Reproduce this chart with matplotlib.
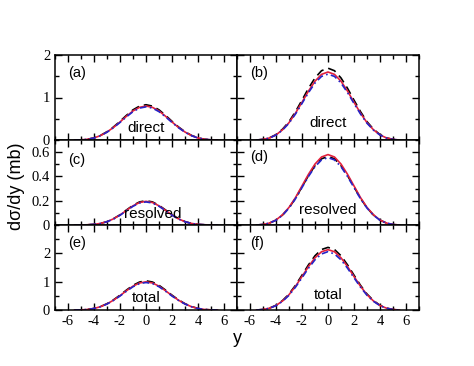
import matplotlib
matplotlib.use("Agg")
import matplotlib.pyplot as plt
from matplotlib.ticker import MultipleLocator

plt.rcParams['axes.unicode_minus'] = False
plt.rcParams['font.family'] = ['Liberation Serif', 'DejaVu Serif']

# rapidity grid
y = [-5.5, -5.0, -4.5, -4.0, -3.5, -3.0, -2.5, -2.0, -1.5, -1.0, -0.5, 0.0,
     0.5, 1.0, 1.5, 2.0, 2.5, 3.0, 3.5, 4.0, 4.5, 5.0, 5.5]

# (a) direct, left column
a_black = [0, 0.004, 0.017, 0.05, 0.108, 0.195, 0.307, 0.44, 0.581, 0.71, 0.797, 0.83,
           0.797, 0.71, 0.581, 0.44, 0.307, 0.195, 0.108, 0.05, 0.017, 0.004, 0]
a_red = [0, 0.004, 0.016, 0.048, 0.104, 0.188, 0.296, 0.424, 0.56, 0.684, 0.768, 0.80,
         0.768, 0.684, 0.56, 0.424, 0.296, 0.188, 0.104, 0.048, 0.016, 0.004, 0]
a_blue = [0, 0.004, 0.016, 0.047, 0.101, 0.183, 0.289, 0.413, 0.546, 0.667, 0.75, 0.78,
          0.75, 0.667, 0.546, 0.413, 0.289, 0.183, 0.101, 0.047, 0.016, 0.004, 0]

# (b) direct, right column
b_black = [0, 0.014, 0.051, 0.127, 0.254, 0.431, 0.668, 0.938, 1.217, 1.46, 1.63, 1.69,
           1.63, 1.46, 1.217, 0.938, 0.668, 0.431, 0.254, 0.127, 0.051, 0.014, 0]
b_red = [0, 0.013, 0.048, 0.12, 0.24, 0.408, 0.632, 0.888, 1.152, 1.384, 1.544, 1.60,
         1.544, 1.384, 1.152, 0.888, 0.632, 0.408, 0.24, 0.12, 0.048, 0.013, 0]
b_blue = [0, 0.012, 0.047, 0.116, 0.233, 0.395, 0.612, 0.86, 1.116, 1.341, 1.496, 1.55,
          1.496, 1.341, 1.116, 0.86, 0.612, 0.395, 0.233, 0.116, 0.047, 0.012, 0]

# (c) resolved, left column
c_black = [0, 0, 0.002, 0.005, 0.013, 0.028, 0.052, 0.084, 0.124, 0.162, 0.190, 0.200,
           0.190, 0.162, 0.124, 0.084, 0.052, 0.028, 0.013, 0.005, 0.002, 0, 0]
c_red = [0, 0, 0.002, 0.005, 0.013, 0.027, 0.051, 0.082, 0.121, 0.158, 0.185, 0.195,
         0.185, 0.158, 0.121, 0.082, 0.051, 0.027, 0.013, 0.005, 0.002, 0, 0]
c_blue = [0, 0, 0.002, 0.005, 0.012, 0.027, 0.049, 0.080, 0.118, 0.154, 0.181, 0.190,
          0.181, 0.154, 0.118, 0.080, 0.049, 0.027, 0.012, 0.005, 0.002, 0, 0]

# (d) resolved, right column
d_black = [0, 0.004, 0.016, 0.04, 0.082, 0.141, 0.22, 0.314, 0.407, 0.489, 0.545, 0.565,
           0.545, 0.489, 0.407, 0.314, 0.22, 0.141, 0.082, 0.04, 0.016, 0.004, 0]
d_red = [0, 0.004, 0.016, 0.041, 0.084, 0.145, 0.226, 0.322, 0.418, 0.502, 0.56, 0.58,
         0.56, 0.502, 0.418, 0.322, 0.226, 0.145, 0.084, 0.041, 0.016, 0.004, 0]
d_blue = [0, 0.004, 0.016, 0.039, 0.08, 0.139, 0.216, 0.308, 0.40, 0.48, 0.536, 0.555,
          0.536, 0.48, 0.40, 0.308, 0.216, 0.139, 0.08, 0.039, 0.016, 0.004, 0]

# (e) total, left column
e_black = [0, 0.004, 0.019, 0.055, 0.121, 0.223, 0.359, 0.524, 0.705, 0.872, 0.987, 1.03,
           0.987, 0.872, 0.705, 0.524, 0.359, 0.223, 0.121, 0.055, 0.019, 0.004, 0]
e_red = [0, 0.004, 0.018, 0.053, 0.117, 0.215, 0.347, 0.506, 0.681, 0.842, 0.953, 0.995,
         0.953, 0.842, 0.681, 0.506, 0.347, 0.215, 0.117, 0.053, 0.018, 0.004, 0]
e_blue = [0, 0.004, 0.018, 0.052, 0.113, 0.21, 0.338, 0.493, 0.664, 0.821, 0.931, 0.97,
          0.931, 0.821, 0.664, 0.493, 0.338, 0.21, 0.113, 0.052, 0.018, 0.004, 0]

# (f) total, right column
f_black = [0, 0.018, 0.067, 0.166, 0.332, 0.564, 0.872, 1.23, 1.595, 1.915, 2.135, 2.21,
           2.135, 1.915, 1.595, 1.23, 0.872, 0.564, 0.332, 0.166, 0.067, 0.018, 0]
f_red = [0, 0.017, 0.064, 0.159, 0.318, 0.54, 0.838, 1.182, 1.535, 1.843, 2.056, 2.13,
         2.056, 1.843, 1.535, 1.182, 0.838, 0.54, 0.318, 0.159, 0.064, 0.017, 0]
f_blue = [0, 0.016, 0.062, 0.153, 0.305, 0.519, 0.806, 1.137, 1.476, 1.772, 1.977, 2.06,
          1.977, 1.772, 1.476, 1.137, 0.806, 0.519, 0.305, 0.153, 0.062, 0.016, 0]

panels = [
    ('(a)', 'direct', (a_black, a_red, a_blue)),
    ('(b)', 'direct', (b_black, b_red, b_blue)),
    ('(c)', 'resolved', (c_black, c_red, c_blue)),
    ('(d)', 'resolved', (d_black, d_red, d_blue)),
    ('(e)', 'total', (e_black, e_red, e_blue)),
    ('(f)', 'total', (f_black, f_red, f_blue)),
]
row_ylim = [2.0, 0.7, 3.0]
row_yticks = [[0, 1, 2], [0, 0.2, 0.4, 0.6], [0, 1, 2]]
row_yticklabels = [['0', '1', '2'], ['0', '0.2', '0.4', '0.6'], ['0', '1', '2']]
row_minor = [0.5, 0.1, 0.5]
xticks = [-6, -4, -2, 0, 2, 4, 6]
label_y = {'(a)': 0.79, '(b)': 0.79, '(c)': 0.76, '(d)': 0.80, '(e)': 0.79, '(f)': 0.79}
name_y = [[0.14, 0.20], [0.13, 0.18], [0.14, 0.18]]
name_x = [[0.0, 0.0], [0.55, 0.0], [0.0, 0.0]]

fig = plt.figure(figsize=(4.74, 3.66), dpi=100)
left, mid, right = 55 / 474, 237 / 474, 419 / 474
top, bottom = 1 - 55 / 366, 1 - 310 / 366
h = (top - bottom) / 3

sans = ['Liberation Sans', 'DejaVu Sans']

for i, (tag, name, (sb, sr, sbl)) in enumerate(panels):
    row, col = divmod(i, 2)
    x0 = left if col == 0 else mid
    w = mid - left if col == 0 else right - mid
    ax = fig.add_axes([x0, top - (row + 1) * h, w, h])
    ax.plot(y, sb, color='black', lw=1.2, ls=(0, (5, 3)))
    ax.plot(y, sr, color='#e3203c', lw=1.2, ls='-')
    ax.plot(y, sbl, color='#2424c8', lw=1.2, ls=(0, (4, 2, 1, 2)))
    ax.set_xlim(-7, 7)
    ax.set_ylim(0, row_ylim[row])
    ax.set_xticks(xticks)
    ax.xaxis.set_minor_locator(MultipleLocator(1))
    ax.set_yticks(row_yticks[row])
    ax.yaxis.set_minor_locator(MultipleLocator(row_minor[row]))
    ax.tick_params(which='both', direction='in', top=True, right=True, width=1,
                   labelsize=10.5)
    ax.tick_params(which='major', length=5)
    ax.tick_params(which='minor', length=3)
    if col == 0:
        ax.set_yticklabels(row_yticklabels[row])
    else:
        ax.set_yticklabels([])
    if row == 2:
        ax.set_xticklabels([str(t) for t in xticks])
    else:
        ax.set_xticklabels([])
    for s in ax.spines.values():
        s.set_linewidth(1.1)
    ax.text(0.07, label_y[tag], tag, transform=ax.transAxes, family=sans,
            fontsize=10.5, va='center', ha='left')
    ax.text(name_x[row][col], name_y[row][col], name, family=sans, fontsize=11,
            ha='center', va='center', transform=ax.get_xaxis_transform())

fig.text(0.034, 0.49, 'd\u03c3/dy (mb)', rotation=90, family=sans, fontsize=13,
         ha='center', va='center')
fig.text(0.5, 0.075, 'y', family=sans, fontsize=13, ha='center', va='center')

fig.savefig('out.png', dpi=100)
